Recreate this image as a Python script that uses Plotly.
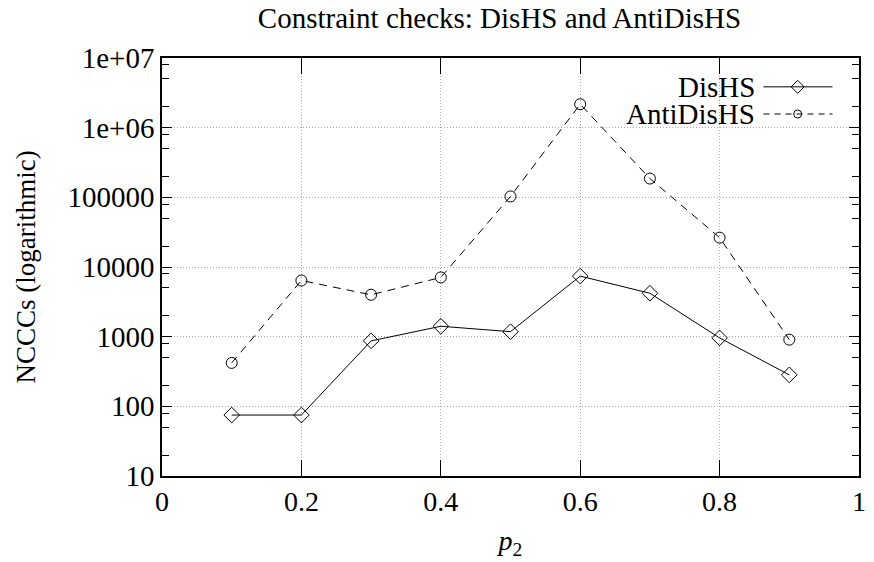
import plotly.graph_objects as go

# ---- data ----
p2 = [0.1, 0.2, 0.3, 0.4, 0.5, 0.6, 0.7, 0.8, 0.9]
dishs = [75, 75, 870, 1410, 1180, 7400, 4200, 960, 283]
antidishs = [420, 6400, 3990, 7080, 103000, 2170000, 186000, 26400, 906]

x_tickvals = [0, 0.2, 0.4, 0.6, 0.8, 1]
x_ticktext = ["0", "0.2", "0.4", "0.6", "0.8", "1"]
y_tickvals = [10, 100, 1000, 10000, 100000, 1000000, 10000000]
y_ticktext = ["10", "100", "1000", "10000", "100000", "1e+06", "1e+07"]
y_minor = [m * 10 ** e for e in range(1, 7) for m in (2, 5, 8)]

series_names = ["DisHS", "AntiDisHS"]

FONT = "Liberation Serif, Times New Roman, serif"
L, R, T, B = 162, 8, 58, 86
W, H = 874, 562

fig = go.Figure()
fig.add_trace(go.Scatter(
    x=p2, y=dishs, mode="lines+markers", name=series_names[0],
    line=dict(color="black", width=1),
    marker=dict(symbol="diamond-open", size=12, color="black", line=dict(width=1)),
    showlegend=False))
fig.add_trace(go.Scatter(
    x=p2, y=antidishs, mode="lines+markers", name=series_names[1],
    line=dict(color="black", width=1, dash="8px,6px"),
    marker=dict(symbol="circle-open", size=11, color="black", line=dict(width=1)),
    showlegend=False))

# legend samples (gnuplot style: text left, sample right) on overlay axis
leg_y = [0.931, 0.866]
fig.add_trace(go.Scatter(x=[0.863, 0.962], y=[leg_y[0]] * 2, mode="lines",
                         line=dict(color="black", width=1), xaxis="x2", yaxis="y2",
                         showlegend=False, hoverinfo="skip"))
fig.add_trace(go.Scatter(x=[0.912], y=[leg_y[0]], mode="markers",
                         marker=dict(symbol="diamond-open", size=10, color="black", line=dict(width=1)),
                         xaxis="x2", yaxis="y2", showlegend=False, hoverinfo="skip"))
fig.add_trace(go.Scatter(x=[0.863, 0.962], y=[leg_y[1]] * 2, mode="lines",
                         line=dict(color="black", width=1, dash="6px,5px"), xaxis="x2", yaxis="y2",
                         showlegend=False, hoverinfo="skip"))
fig.add_trace(go.Scatter(x=[0.912], y=[leg_y[1]], mode="markers",
                         marker=dict(symbol="circle-open", size=8, color="black", line=dict(width=1)),
                         xaxis="x2", yaxis="y2", showlegend=False, hoverinfo="skip"))

for name, yy in zip(series_names, leg_y):
    fig.add_annotation(x=0.853, y=yy, xref="paper", yref="paper", text=name,
                       showarrow=False, xanchor="right", yanchor="middle",
                       font=dict(family=FONT, size=29, color="black"))

fig.update_layout(
    width=W, height=H,
    margin=dict(l=L, r=R, t=T, b=B),
    paper_bgcolor="white", plot_bgcolor="white",
    font=dict(family=FONT, size=28, color="black"),
    title=dict(text="Constraint checks: DisHS and AntiDisHS", x=0.5715, xanchor="center",
               y=0.968, yanchor="middle", font=dict(family=FONT, size=29)),
    xaxis=dict(range=[0, 1], tickvals=x_tickvals, ticktext=x_ticktext,
               ticks="inside", ticklen=16, tickwidth=1, tickcolor="black",
               showline=True, linecolor="black", linewidth=1.5, mirror="allticks",
               showgrid=True, gridcolor="#aaaaaa", griddash="1px,2px", gridwidth=1,
               zeroline=False,
               title=dict(text="<i>p</i><sub>2</sub>", standoff=14, font=dict(size=28)),
               tickfont=dict(size=28)),
    yaxis=dict(type="log", range=[1, 7], tickvals=y_tickvals, ticktext=y_ticktext,
               ticks="inside", ticklen=10, tickwidth=1, tickcolor="black",
               showline=True, linecolor="black", linewidth=1.5, mirror="allticks",
               showgrid=True, gridcolor="#aaaaaa", griddash="1px,2px", gridwidth=1,
               zeroline=False,
               minor=dict(tickvals=y_minor, ticks="inside", ticklen=7, tickcolor="black",
                          tickwidth=1, showgrid=False),
               title=dict(text="NCCCs (logarithmic)", standoff=24, font=dict(size=27)),
               tickfont=dict(size=29)),
    xaxis2=dict(range=[0, 1], overlaying="x", visible=False, fixedrange=True),
    yaxis2=dict(range=[0, 1], overlaying="y", visible=False, fixedrange=True),
)

fig.write_html("out.html")
